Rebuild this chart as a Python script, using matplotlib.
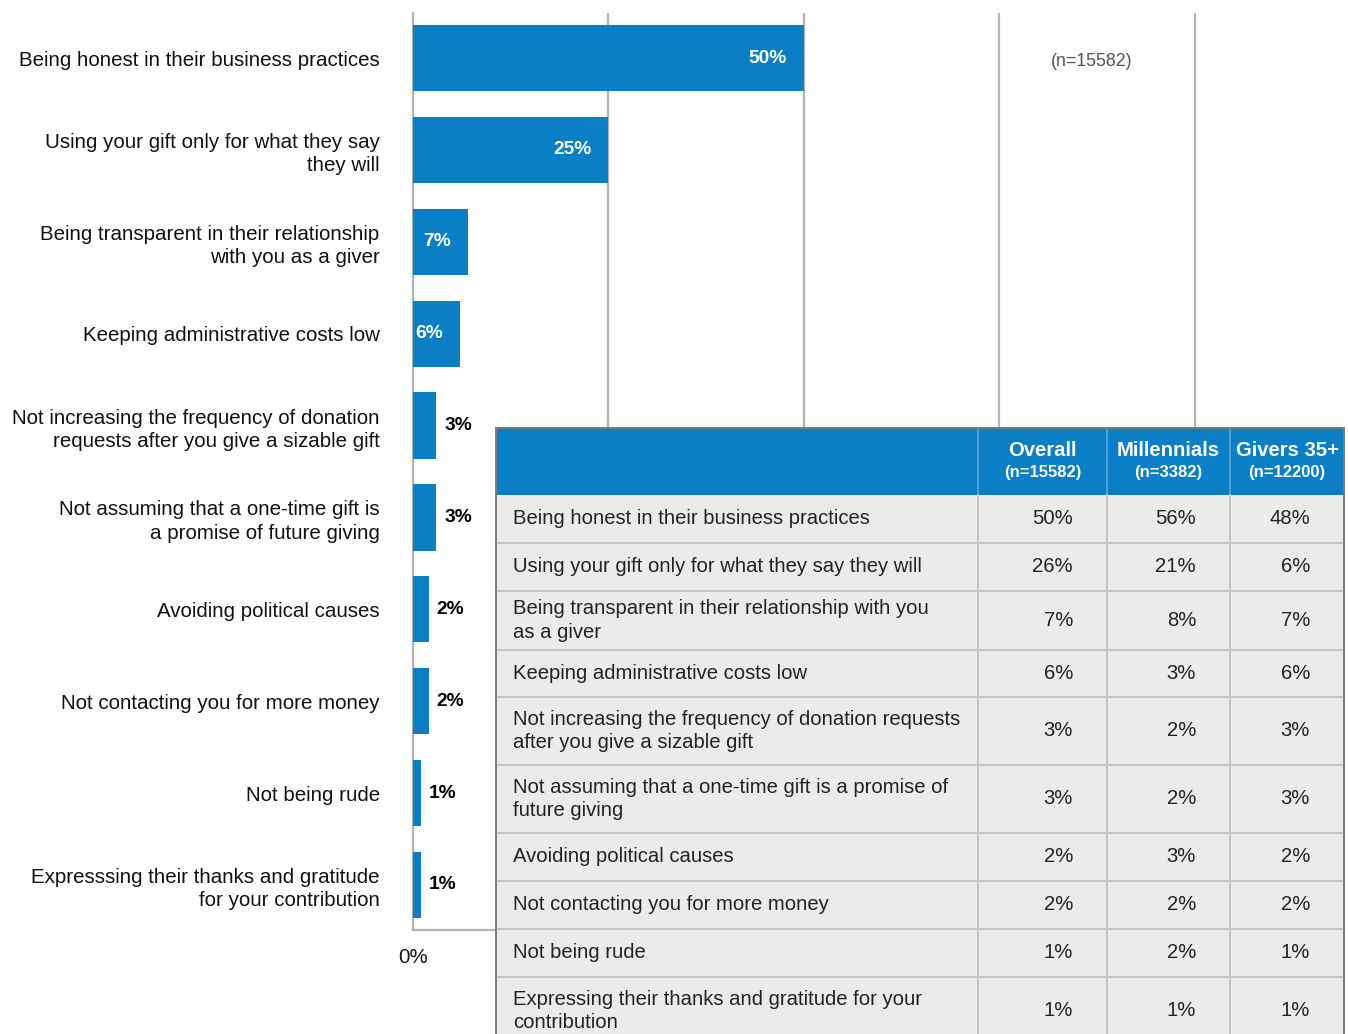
import matplotlib
matplotlib.use("Agg")
import matplotlib.pyplot as plt
from matplotlib.patches import Rectangle

plt.rcParams['font.family'] = ['Liberation Sans', 'DejaVu Sans']

# Bar chart data (overall share of givers)
categories = [
    "Being honest in their business practices",
    "Using your gift only for what they say\nthey will",
    "Being transparent in their relationship\nwith you as a giver",
    "Keeping administrative costs low",
    "Not increasing the frequency of donation\nrequests after you give a sizable gift",
    "Not assuming that a one-time gift is\na promise of future giving",
    "Avoiding political causes",
    "Not contacting you for more money",
    "Not being rude",
    "Expresssing their thanks and gratitude\nfor your contribution",
]
overall_pct = [50, 25, 7, 6, 3, 3, 2, 2, 1, 1]

# Breakdown table data
table_rows = [
    "Being honest in their business practices",
    "Using your gift only for what they say they will",
    "Being transparent in their relationship with you\nas a giver",
    "Keeping administrative costs low",
    "Not increasing the frequency of donation requests\nafter you give a sizable gift",
    "Not assuming that a one-time gift is a promise of\nfuture giving",
    "Avoiding political causes",
    "Not contacting you for more money",
    "Not being rude",
    "Expressing their thanks and gratitude for your\ncontribution",
]
table_headers = ["Overall", "Millennials", "Givers 35+"]
table_ns = ["(n=15582)", "(n=3382)", "(n=12200)"]
table_overall = [50, 26, 7, 6, 3, 3, 2, 2, 1, 1]
table_millennials = [56, 21, 8, 3, 2, 2, 3, 2, 2, 1]
table_givers35 = [48, 6, 7, 6, 3, 3, 2, 2, 1, 1]
sample_note = "(n=15582)"

BLUE = "#0a7fc6"
GRID = "#b4b4b4"

W, H = 1348, 1034
fig = plt.figure(figsize=(W / 100, H / 100), dpi=100)

# ---- bar chart ----
ax_l, ax_r, ax_t, ax_b = 413, 1344, 13, 930
XMAX = 119.1
ax = fig.add_axes([ax_l / W, 1 - ax_b / H, (ax_r - ax_l) / W, (ax_b - ax_t) / H])
y = list(range(len(categories)))
ax.barh(y, overall_pct, height=0.72, color=BLUE, zorder=3)
ax.set_ylim(len(categories) - 0.51, -0.49)
ax.set_xlim(0, XMAX)
ax.set_xticks([0, 25, 50, 75, 100])
ax.set_xticklabels(["0%", "", "", "", ""])
ax.xaxis.grid(True, color=GRID, linewidth=1.6, zorder=0)
ax.set_yticks(y)
ax.set_yticklabels(categories, fontsize=14.8, color="#111111", linespacing=1.3)
ax.tick_params(axis='y', length=0, pad=24)
ax.tick_params(axis='x', length=0, pad=13, labelsize=14.8, labelcolor="#111111")
for s in ("top", "right"):
    ax.spines[s].set_visible(False)
for s in ("left", "bottom"):
    ax.spines[s].set_color(GRID)
    ax.spines[s].set_linewidth(1.6)

px_per_unit = (ax_r - ax_l) / XMAX
for yi, v in zip(y, overall_pct):
    if v >= 5:
        ax.text(v - 17 / px_per_unit, yi, f"{v}%", ha="right", va="center",
                color="white", fontsize=13.8, fontweight="bold", zorder=4)
    else:
        ax.text(v + 8 / px_per_unit, yi, f"{v}%", ha="left", va="center",
                color="black", fontsize=13.8, fontweight="bold", zorder=4)

fig.text(1092 / W, 1 - 62 / H, sample_note, ha="center", va="center",
         fontsize=12.8, color="#555555")

# ---- breakdown table ----
tab = fig.add_axes([0, 0, 1, 1], zorder=5)
tab.set_xlim(0, W)
tab.set_ylim(H, 0)
tab.axis("off")
tab.patch.set_alpha(0)

col_edges = [496, 978, 1107, 1230, 1344]
header_top, header_bot = 428, 495
row_heights = [48, 48, 59, 47, 68, 68, 48, 48, 48, 68]
CELL = "#ebebed"
INNER = "#c4c4c4"
OUTER = "#7a7a7a"

# header
tab.add_patch(Rectangle((col_edges[0], header_top), col_edges[-1] - col_edges[0],
                        header_bot - header_top, facecolor=BLUE, edgecolor="none"))
for j, (hdr, n) in enumerate(zip(table_headers, table_ns)):
    cx = (col_edges[j + 1] + col_edges[j + 2]) / 2
    tab.text(cx, 450, hdr, ha="center", va="center", color="white",
             fontsize=14.6, fontweight="bold")
    tab.text(cx, 473, n, ha="center", va="center", color="white",
             fontsize=12, fontweight="bold")
for xe in col_edges[1:-1]:
    tab.plot([xe, xe], [header_top, header_bot], color="#5aa8dc", lw=1.2)

# body rows
top = header_bot
body_top = top
for i, h in enumerate(row_heights):
    tab.add_patch(Rectangle((col_edges[0], top), col_edges[-1] - col_edges[0], h,
                            facecolor=CELL, edgecolor="none"))
    cy = top + h / 2
    tab.text(513, cy, table_rows[i], ha="left", va="center", fontsize=14.6,
             color="#222222", linespacing=1.3)
    for j, vals in enumerate([table_overall, table_millennials, table_givers35]):
        tab.text(col_edges[j + 2] - 34, cy, f"{vals[i]}%", ha="right", va="center",
                 fontsize=14.6, color="#222222")
    if i > 0:
        tab.plot([col_edges[0], col_edges[-1]], [top, top], color=INNER, lw=1.4)
    top += h
for xe in col_edges[1:-1]:
    tab.plot([xe, xe], [body_top, top], color=INNER, lw=1.4)

# outer frame
tab.plot([col_edges[0], col_edges[0]], [header_top, top], color=OUTER, lw=1.4)
tab.plot([col_edges[-1], col_edges[-1]], [header_top, top], color=OUTER, lw=1.4)
tab.plot([col_edges[0], col_edges[-1]], [header_top, header_top], color=OUTER, lw=1.4)

fig.savefig("out.png", dpi=100, facecolor="white")
